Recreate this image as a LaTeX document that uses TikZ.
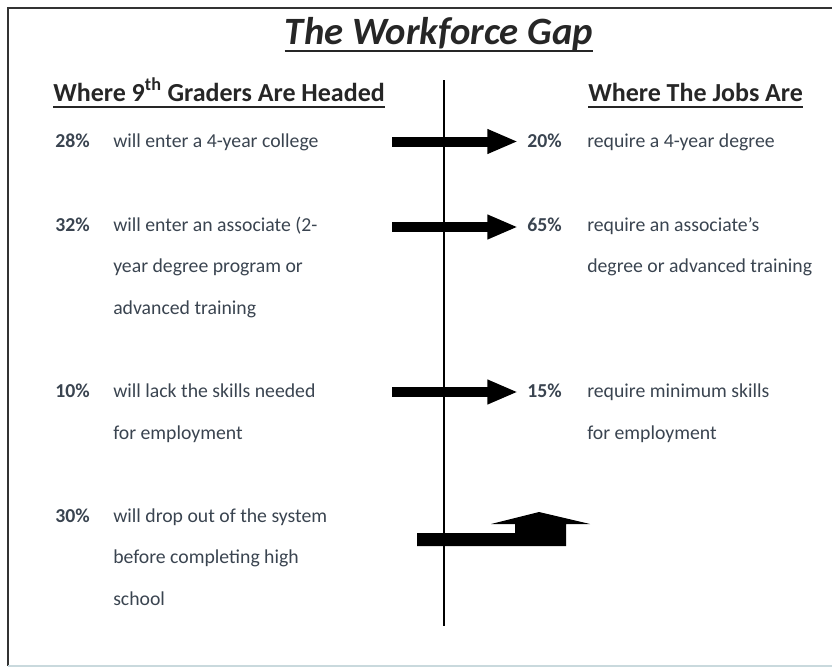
\documentclass[tikz,border=0pt]{standalone}
\usepackage{fontspec}
\setmainfont{Carlito}
\usetikzlibrary{calc, arrows.meta}
\definecolor{ink}{HTML}{3A4450}
\definecolor{rim}{HTML}{C9D9DD}

\begin{document}
\begin{tikzpicture}[x=0.75pt,y=-0.75pt,
	txt/.style={anchor=base west,inner sep=0pt,text=ink,font=\fontsize{14.8}{18}\selectfont},
	pct/.style={txt,font=\fontsize{14.8}{18}\selectfont\bfseries},
	head/.style={anchor=base west,inner sep=0pt,text=black!85,font=\fontsize{19.5}{23}\selectfont\bfseries},
	uline/.style={line width=1.5pt,black!85},
	fatarrow/.style={line width=7.5pt,shorten >=6.75pt,-{Triangle[length=23pt,width=17pt]}}]
		\useasboundingbox (0,0) rectangle (832,671);
		\draw[line width=1.5pt,black!80] (8,666)--(8,8)--(832,8); %枠
		\draw[rim,line width=1pt] (8,666)--(832,666);
		\node[anchor=base,inner sep=0pt,text=black!85,font=\fontsize{29}{34}\selectfont\bfseries\itshape] (title) at (439,44) {The Workforce Gap}; %タイトル
		\draw[uline] ($(title.base west)+(0,7)$)--($(title.base east)+(0,7)$);
		\node[head] (hl) at (53,101) {Where 9\textsuperscript{th} Graders Are Headed};
		\node[head] (hr) at (588,101) {Where The Jobs Are};
		\draw[uline] ($(hl.base west)+(0,6)$)--($(hl.base east)+(0,6)$);
		\draw[uline] ($(hr.base west)+(0,6)$)--($(hr.base east)+(0,6)$);
		\coordinate (top) at (444,80);
		\coordinate (bot) at (444,626);
		\draw[line width=1.1pt] (top)--(bot); %仕切り
		% 左側
		\node[pct] (l1p) at (55,147) {28\%};
		\node[txt] (l1) at (113,147) {will enter a 4-year college};
		\node[pct] (l2p) at (55,231) {32\%};
		\node[txt] (l2) at (113,231) {will enter an associate (2-};
		\node[txt] (l2b) at (113,272.5) {year degree program or};
		\node[txt] (l2c) at (113,314) {advanced training};
		\node[pct] (l3p) at (55,397.5) {10\%};
		\node[txt] (l3) at (113,397.5) {will lack the skills needed};
		\node[txt] (l3b) at (113,439) {for employment};
		\node[pct] (l4p) at (55,522) {30\%};
		\node[txt] (l4) at (113,522) {will drop out of the system};
		\node[txt] (l4b) at (113,563.5) {before completing high};
		\node[txt] (l4c) at (113,605) {school};
		% 右側
		\node[pct] (r1p) at (527,147) {20\%};
		\node[txt] (r1) at (587,147) {require a 4-year degree};
		\node[pct] (r2p) at (527,231) {65\%};
		\node[txt] (r2) at (587,231) {require an associate’s};
		\node[txt] (r2b) at (587,272.5) {degree or advanced training};
		\node[pct] (r3p) at (527,397.5) {15\%};
		\node[txt] (r3) at (587,397.5) {require minimum skills};
		\node[txt] (r3b) at (587,439) {for employment};
		% 矢印
		\coordinate (s1) at (392,141.5);
		\coordinate (s2) at (392,227);
		\coordinate (s3) at (392,392);
		\draw[fatarrow] (s1)--(s1 -| r1p.west);
		\draw[fatarrow] (s2)--(s2 -| r2p.west);
		\draw[fatarrow] (s3)--(s3 -| r3p.west);
		\fill (417,533)--(515,533)--(515,524)--(491,524)--(539,512)--(590,524)--(566,524)--(566,546)--(417,546)--cycle; %曲がり矢印
\end{tikzpicture}
\end{document}
